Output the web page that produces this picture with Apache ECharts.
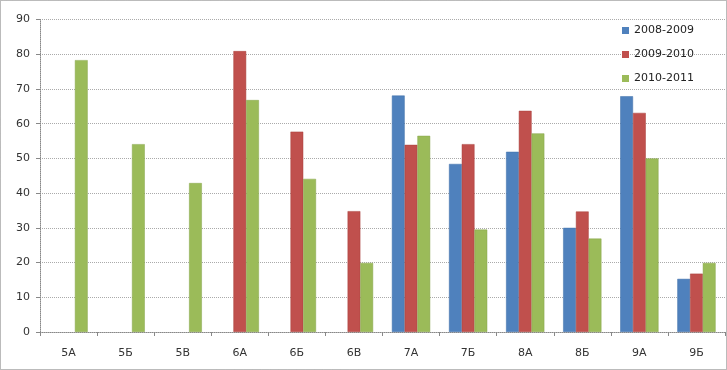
<!DOCTYPE html>
<html><head><meta charset="utf-8">
<script src="https://cdn.jsdelivr.net/npm/echarts@6/dist/echarts.min.js"></script>
<style>html,body{margin:0;padding:0;background:#fff}#c{width:727px;height:370px}</style>
</head><body><div id="c"></div>
<script>
const categories = ["5А","5Б","5В","6А","6Б","6В","7А","7Б","8А","8Б","9А","9Б"];
const seriesNames = ["2008-2009","2009-2010","2010-2011"];
const s2008 = [null,null,null,null,null,null,68.1,48.4,51.9,30.0,67.9,15.3];
const s2009 = [null,null,null,80.9,57.7,34.8,53.9,54.1,63.7,34.7,63.1,16.8];
const s2010 = [78.3,54.1,42.9,66.8,44.1,19.9,56.5,29.5,57.2,26.9,50.0,19.9];
const colors = ["#4F81BD","#C0504D","#9BBB59"];
const borders = ["#3f6fa8","#a8403d","#86a54a"];
const yTicks = {min:0,max:90,interval:10};

const chart = echarts.init(document.getElementById('c'));
const font = "Verdana, 'DejaVu Sans', sans-serif";
chart.setOption({
  animation:false,
  backgroundColor:'#fff',
  grid:{left:40,right:2,top:19.5,bottom:38,containLabel:false},
  legend:{orient:'vertical',left:617,top:20,itemWidth:7,itemHeight:7,itemGap:13,
    icon:'rect',textStyle:{fontFamily:font,fontSize:11,color:'#222',padding:[0,0,0,0]},
    data:seriesNames.map(n=>({name:n,itemStyle:{borderWidth:0}}))},
  xAxis:{type:'category',data:categories,
    axisLine:{lineStyle:{color:'#888',type:'dotted'}},
    axisTick:{show:true,length:4,lineStyle:{color:'#888'}},
    axisLabel:{fontFamily:font,fontSize:11,color:'#333',margin:16}},
  yAxis:{type:'value',min:yTicks.min,max:yTicks.max,interval:yTicks.interval,
    axisLine:{show:true,lineStyle:{color:'#888',type:'dotted'}},
    axisTick:{show:true,length:4,lineStyle:{color:'#888'}},
    axisLabel:{fontFamily:font,fontSize:11,color:'#333',margin:10},
    splitLine:{lineStyle:{color:'#aaa',type:'dotted'}}},
  series:[s2008,s2009,s2010].map((d,i)=>({
    name:seriesNames[i],type:'bar',data:d,barGap:'0%',barCategoryGap:'33%',
    itemStyle:{color:colors[i],borderColor:borders[i],borderWidth:0.5}
  })),
  graphic:[{type:'rect',shape:{x:0.5,y:0.5,width:726,height:369},
    style:{fill:null,stroke:'#777',lineWidth:1,lineDash:[1,1]},silent:true}]
});
</script></body></html>
